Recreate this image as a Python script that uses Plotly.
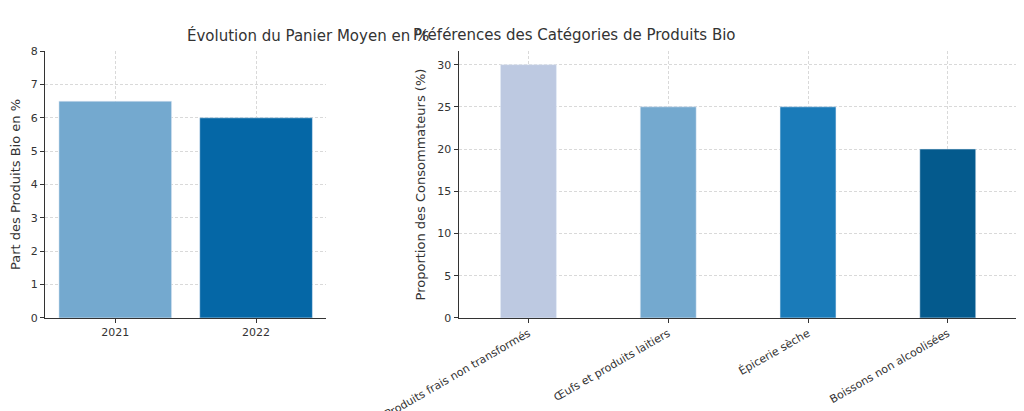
import plotly.graph_objects as go

# Data
annees = ["2021", "2022"]
panier = [6.5, 6.0]
couleurs_annees = ["#74a9cf", "#0567a6"]

categories = ["Produits frais non transformés", "Œufs et produits laitiers",
              "Épicerie sèche", "Boissons non alcoolisées"]
proportions = [30, 25, 25, 20]
couleurs_cat = ["#bdc9e1", "#74a9cf", "#1a7bb9", "#045a8d"]

fig = go.Figure()
fig.add_trace(go.Bar(x=annees, y=panier, marker_color=couleurs_annees,
                     width=0.8, xaxis="x", yaxis="y", showlegend=False))
fig.add_trace(go.Bar(x=categories, y=proportions, marker_color=couleurs_cat,
                     width=0.4, xaxis="x2", yaxis="y2", showlegend=False))

grid = dict(showgrid=True, gridcolor="#d9d9d9", griddash="3px,2px", gridwidth=1,
            showline=True, linecolor="#333", linewidth=1, ticks="outside",
            ticklen=4, tickcolor="#333", zeroline=False, automargin=False,
            tickfont=dict(size=11, color="#333"))

fig.update_layout(
    width=1024, height=411, margin=dict(l=0, r=0, t=0, b=0, autoexpand=False),
    plot_bgcolor="white", paper_bgcolor="white",
    font=dict(family="DejaVu Sans", color="#333"),
    xaxis=dict(domain=[0.036, 0.311], anchor="y", **grid),
    yaxis=dict(domain=[0.246, 0.895], anchor="x", range=[0, 8], dtick=1,
               title=dict(text="Part des Produits Bio en %", font=dict(size=13), standoff=8), **grid),
    xaxis2=dict(domain=[0.44, 0.986], anchor="y2", tickangle=-30, **grid),
    yaxis2=dict(domain=[0.246, 0.895], anchor="x2", range=[0, 31.6], dtick=5,
                title=dict(text="Proportion des Consommateurs (%)", font=dict(size=13), standoff=8), **grid),
    annotations=[
        dict(text="Évolution du Panier Moyen en %", x=0.173, y=0.96, xref="paper",
             yref="paper", showarrow=False, font=dict(size=15, color="#333")),
        dict(text="Préférences des Catégories de Produits Bio", x=0.713, y=0.96,
             xref="paper", yref="paper", showarrow=False, font=dict(size=15, color="#333")),
    ],
)

fig.write_html("out.html")
